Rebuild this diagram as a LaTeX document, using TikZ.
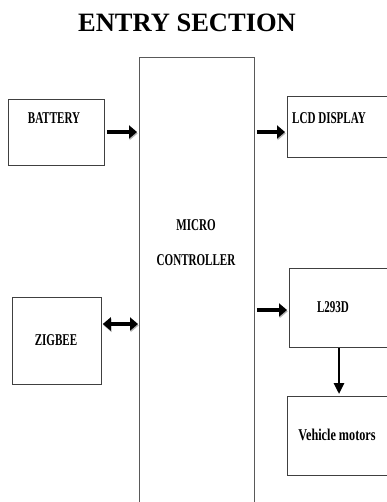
\documentclass[tikz,border=0pt]{standalone}
\usepackage{fontspec}
\setmainfont{Liberation Serif}
\newfontfamily\condfont[FakeStretch=0.67]{Liberation Serif}
\newfontfamily\condfontw[FakeStretch=0.74]{Liberation Serif}
\usetikzlibrary{arrows.meta}
\begin{document}
\begin{tikzpicture}[x=1pt,y=-1pt,
  box/.style={draw=black!75, line width=0.8pt, anchor=north west, inner sep=0pt},
  lab/.style={font=\condfont\bfseries\fontsize{16.5}{19}\selectfont, inner sep=0pt, text=black},
  labw/.style={font=\condfontw\bfseries\fontsize{16.5}{19}\selectfont, inner sep=0pt, text=black},
  shadowed/.style={preaction={draw=black!30, transform canvas={shift={(0.7pt,-1.4pt)}}}},
  fat/.style={line width=4pt, -{Triangle[length=8pt,width=13pt]}, shorten <=2pt, shorten >=2pt, shadowed},
  fatboth/.style={line width=4pt, {Triangle[length=8pt,width=13pt]}-{Triangle[length=8pt,width=13pt]}, shorten <=1pt, shorten >=1pt, shadowed},
  slim/.style={line width=2.6pt, -{Triangle[length=11pt,width=10pt]}, shorten >=2pt}]
\useasboundingbox (0,0) rectangle (387,502);
\clip (0,0) rectangle (387,502);
\fill[white] (0,0) rectangle (387,502);

\node[font=\bfseries\fontsize{26.5}{30}\selectfont, inner sep=0pt] (title) at (187,22.5) {ENTRY SECTION};

\node[box, draw=black!65, minimum width=115pt, minimum height=470pt] (mc) at (139,57) {};
\node[box, minimum width=96pt, minimum height=66pt] (bat) at (8,99) {};
\node[box, minimum width=110pt, minimum height=61pt] (lcd) at (287,96) {};
\node[box, minimum width=89pt, minimum height=87pt] (zig) at (12,297) {};
\node[box, minimum width=110pt, minimum height=79pt] (l293) at (289,268) {};
\node[box, minimum width=110pt, minimum height=79pt] (veh) at (287,396) {};

\node[lab] (tbat) at (54,118) {BATTERY};
\node[lab] (tlcd) at (329,118) {LCD DISPLAY};
\node[lab] (tmicro) at (196,225) {MICRO};
\node[lab] (tctrl) at (196,260) {CONTROLLER};
\node[lab] (tl293) at (333,307) {L293D};
\node[lab] (tzig) at (56,340) {ZIGBEE};
\node[labw] (tveh) at (337,435) {Vehicle motors};

\coordinate (ya) at (0,132);
\coordinate (yb) at (0,310);
\coordinate (yc) at (0,324);
\coordinate (vx) at (339,0);

\draw[fat] (bat.east |- ya) -- (mc.west |- ya);
\draw[fat] (mc.east |- ya) -- (lcd.west |- ya);
\draw[fat] (mc.east |- yb) -- (l293.west |- yb);
\draw[fatboth] (zig.east |- yc) -- (mc.west |- yc);
\draw[slim] (l293.south -| vx) -- (veh.north -| vx);
\end{tikzpicture}
\end{document}
